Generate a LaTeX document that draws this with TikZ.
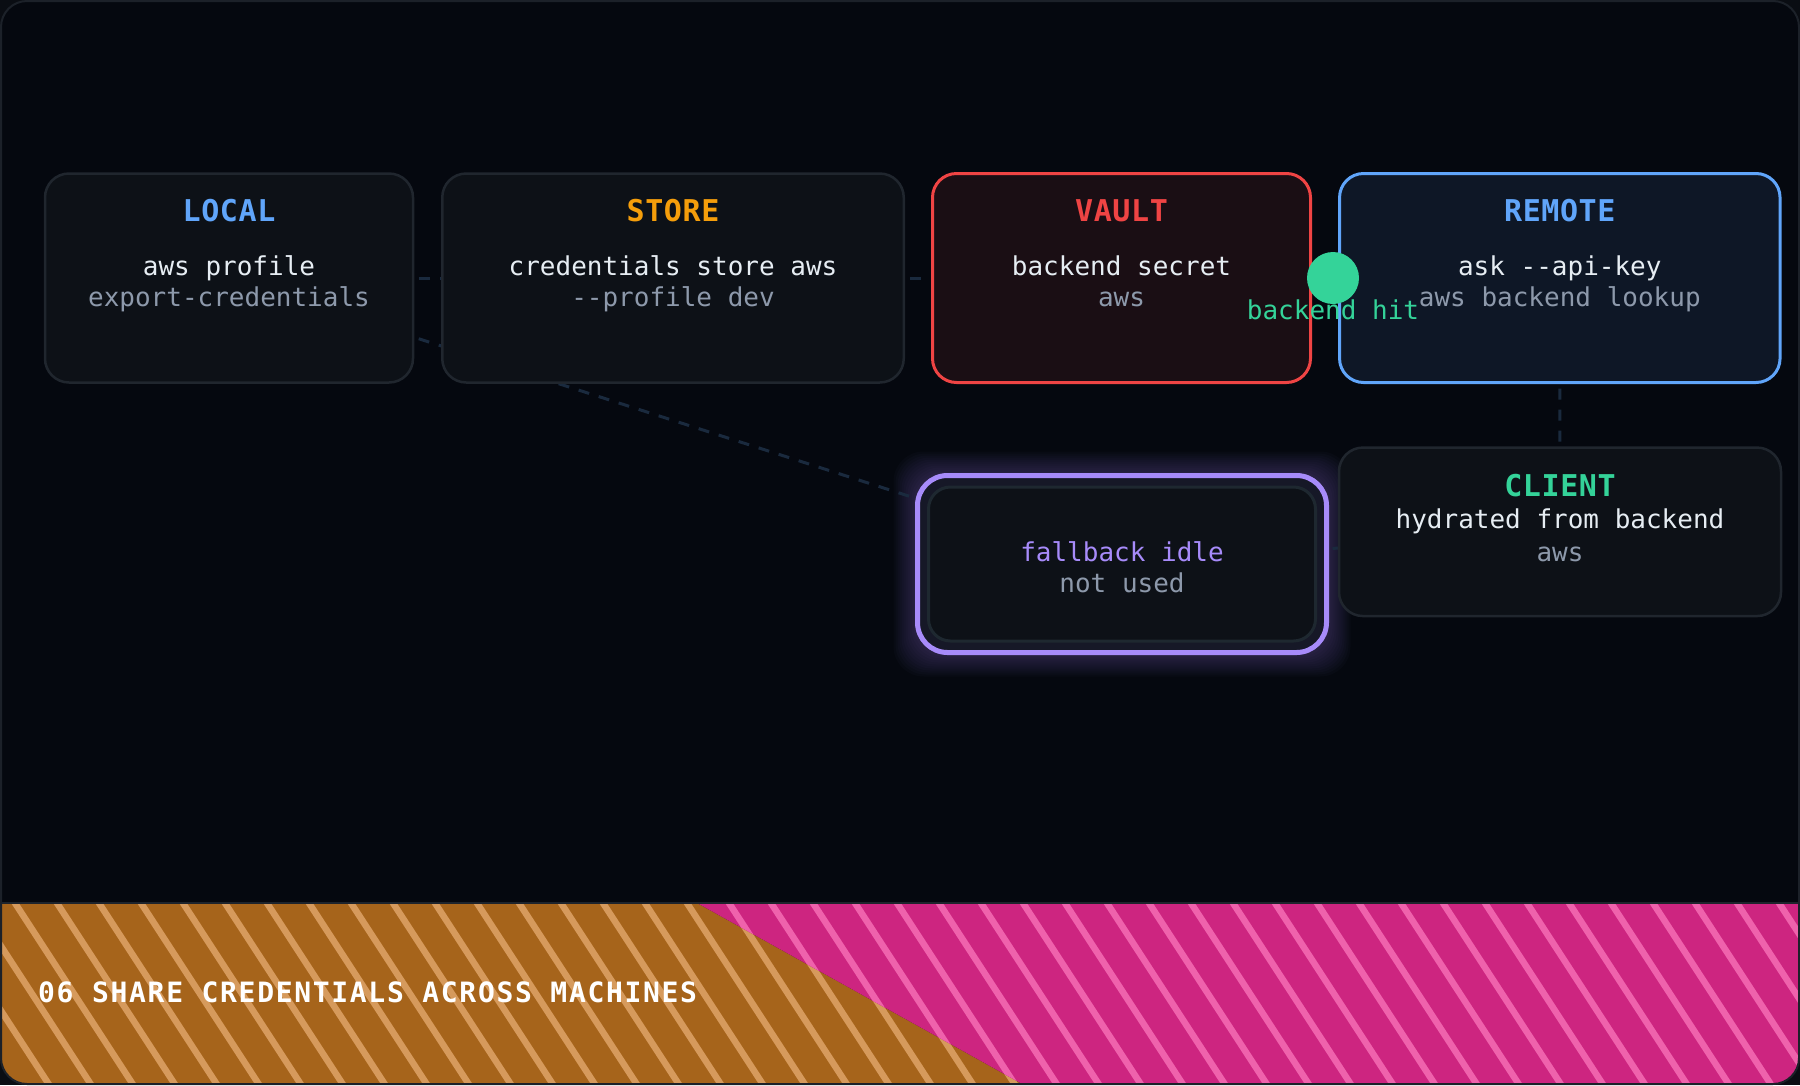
\documentclass[tikz,border=0pt]{standalone}
\usepackage{fontspec}
\newfontfamily\boxfont{DejaVu Sans Mono}
\newfontfamily\headfont[LetterSpace=2]{DejaVu Sans Mono}
\newfontfamily\bannerfont[LetterSpace=6]{DejaVu Sans Mono}

\definecolor{outside}{HTML}{0A0D13}
\definecolor{pagebg}{HTML}{05080F}
\definecolor{frameline}{HTML}{1C2129}
\definecolor{boxfill}{HTML}{0D1117}
\definecolor{boxline}{HTML}{20262E}
\definecolor{linkc}{HTML}{1A2A3E}
\definecolor{txtwhite}{HTML}{E6EDF3}
\definecolor{txtgray}{HTML}{8D99AB}
\definecolor{localblue}{HTML}{60A5FA}
\definecolor{storeamber}{HTML}{F59E0B}
\definecolor{vaultred}{HTML}{EF4444}
\definecolor{vaultfill}{HTML}{1A0E14}
\definecolor{remotefill}{HTML}{0E1726}
\definecolor{hitgreen}{HTML}{34D399}
\definecolor{fallpurple}{HTML}{A78BFA}
\definecolor{fallring}{HTML}{161827}
\definecolor{fallinner}{HTML}{1E2830}
\definecolor{bannerorange}{HTML}{A6641B}
\definecolor{orangestripe}{HTML}{D69A5C}
\definecolor{bannerpink}{HTML}{CD2580}
\definecolor{pinkstripe}{HTML}{EF62AC}
\definecolor{bannerline}{HTML}{1E242C}

\pgfdeclarelayer{back}
\pgfdeclarelayer{links}
\pgfsetlayers{back,links,main}

\begin{document}
\begin{tikzpicture}[x=1pt,y=-1pt,
	box/.style={draw=boxline,line width=2.5pt,fill=boxfill,rounded corners=24pt,minimum height=209pt,outer sep=0pt,inner sep=0pt},
	head/.style={font=\headfont\bfseries\fontsize{30}{34}\selectfont,anchor=base},
	cmd/.style={font=\boxfont\fontsize{26}{30}\selectfont,text=txtwhite,anchor=base},
	note/.style={cmd,text=txtgray},
	link/.style={draw=linkc,line width=3pt,dash pattern=on 11pt off 10pt,dash phase=15pt},
	stripe/.style={line width=6.5pt}]
	\useasboundingbox (0,0) rectangle (1800,1085);

	% page and frame
	\begin{pgfonlayer}{back}
		\fill[outside] (0,0) rectangle (1800,1085);
		\fill[pagebg,rounded corners=26pt] (1,1) rectangle (1799,1084);
	\end{pgfonlayer}

	% top row
	\node[box,minimum width=368pt] (local) at (229,278) {};
	\node[box,minimum width=461.5pt] (store) at (673,278) {};
	\node[box,draw=vaultred,line width=3pt,fill=vaultfill,minimum width=378pt] (vault) at (1121.5,278) {};
	\node[box,draw=localblue,line width=3pt,fill=remotefill,minimum width=440.5pt] (remote) at (1559.8,278) {};

	% lower row
	\node[box,minimum width=442pt,minimum height=168.5pt] (client) at (1560,531.8) {};
	\node[box,draw=fallpurple,line width=5pt,fill=fallring,rounded corners=30pt,minimum width=409pt,minimum height=177pt] (fallback) at (1122,564) {};
	\node[box,draw=fallinner,line width=3pt,rounded corners=22pt,minimum width=387pt,minimum height=154pt] (fallback-in) at (fallback.center) {};

	\begin{pgfonlayer}{back}
		\foreach \g in {2,4,...,24}
			\fill[fallpurple,opacity=0.022,rounded corners=30pt] ([shift={(-\g,-\g)}]fallback.north west) rectangle ([shift={(\g,\g)}]fallback.south east);
	\end{pgfonlayer}

	\begin{pgfonlayer}{links}
		\draw (local) edge[link] (store);
		\draw (store) edge[link] (vault);
		\draw (vault) edge[link] (remote);
		\draw (remote) edge[link] (client);
		\draw (local) edge[link] (fallback);
		\draw (fallback) edge[link] (client);
	\end{pgfonlayer}

	% labels
	\node[head,text=localblue] (local-h) at ([yshift=-47.5pt]local.north) {LOCAL};
	\node[cmd] (local-a) at ([yshift=-101.5pt]local.north) {aws profile};
	\node[note] (local-b) at ([yshift=-133pt]local.north) {export-credentials};

	\node[head,text=storeamber] (store-h) at ([yshift=-47.5pt]store.north) {STORE};
	\node[cmd] (store-a) at ([yshift=-101.5pt]store.north) {credentials store aws};
	\node[note] (store-b) at ([yshift=-133pt]store.north) {-\kern0pt-profile dev};

	\node[head,text=vaultred] (vault-h) at ([yshift=-47.5pt]vault.north) {VAULT};
	\node[cmd] (vault-a) at ([yshift=-101.5pt]vault.north) {backend secret};
	\node[note] (vault-b) at ([yshift=-133pt]vault.north) {aws};

	\node[head,text=localblue] (remote-h) at ([yshift=-47.5pt]remote.north) {REMOTE};
	\node[cmd] (remote-a) at ([yshift=-101.5pt]remote.north) {ask -\kern0pt-api-key};
	\node[note] (remote-b) at ([yshift=-133pt]remote.north) {aws backend lookup};

	\node[head,text=hitgreen] (client-h) at ([yshift=-48.5pt]client.north) {CLIENT};
	\node[cmd] (client-a) at ([yshift=-80.5pt]client.north) {hydrated from backend};
	\node[note] (client-b) at ([yshift=-113.5pt]client.north) {aws};

	\node[cmd,text=fallpurple] (fallback-a) at ([yshift=-86pt]fallback.north) {fallback idle};
	\node[note] (fallback-b) at ([yshift=-116.5pt]fallback.north) {not used};

	% hit marker
	\node[circle,fill=hitgreen,minimum size=52pt,inner sep=0pt] (hit) at (1333,278) {};
	\node[cmd,text=hitgreen] (hit-l) at ([yshift=-41pt]hit.center) {backend hit};

	% banner
	\begin{scope}
		\clip[rounded corners=26pt] (1,1) rectangle (1799,1084);
		\begin{scope}
			\clip (0,903) -- (697,903) -- (1033,1090) -- (0,1090) -- cycle;
			\fill[bannerorange] (0,903) rectangle (1800,1090);
			\foreach \i in {-4,...,43}
				\draw[stripe,orangestripe] ({15+42*\i-5.2},895) -- ++(130,200);
		\end{scope}
		\begin{scope}
			\clip (697,903) -- (1800,903) -- (1800,1090) -- (1033,1090) -- cycle;
			\fill[bannerpink] (0,903) rectangle (1800,1090);
			\foreach \i in {-4,...,43}
				\draw[stripe,pinkstripe] ({15+42*\i-5.2},895) -- ++(130,200);
		\end{scope}
		\draw[bannerline,line width=2pt] (0,903) -- (1800,903);
	\end{scope}
	\node[anchor=base west,inner sep=0pt,font=\bannerfont\bfseries\fontsize{28}{32}\selectfont,text=white] (caption) at (38,1002) {06 SHARE CREDENTIALS ACROSS MACHINES};

	\draw[frameline,line width=2pt,rounded corners=26pt] (1,1) rectangle (1799,1084);
\end{tikzpicture}
\end{document}
